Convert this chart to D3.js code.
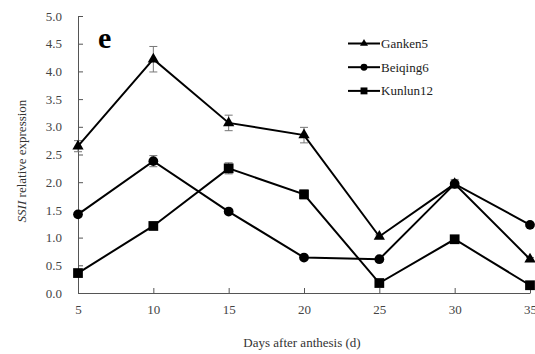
<!DOCTYPE html>
<html>
<head>
<meta charset="utf-8">
<script src="https://d3js.org/d3.v7.min.js"></script>
<style>
  body { margin: 0; background: #fff; }
  svg { display: block; }
  .axis path, .axis line { stroke: #555; }
  .axis text { fill: #444; font-size: 13px; }
</style>
</head>
<body>
<script>
// data
var days = [5, 10, 15, 20, 25, 30, 35];
var ganken5 = [2.65, 4.22, 3.07, 2.85, 1.02, 1.97, 0.61];
var ganken5Err = [0.10, 0.23, 0.14, 0.14, 0.03, 0.08, 0.03];
var beiqing6 = [1.42, 2.38, 1.47, 0.64, 0.61, 1.97, 1.23];
var beiqing6Err = [0.04, 0.10, 0.04, 0.03, 0.03, 0.05, 0.03];
var kunlun12 = [0.36, 1.21, 2.25, 1.78, 0.18, 0.97, 0.14];
var kunlun12Err = [0.03, 0.04, 0.10, 0.08, 0.03, 0.03, 0.03];
var seriesNames = ["Ganken5", "Beiqing6", "Kunlun12"];
var yTicks = [0, 0.5, 1, 1.5, 2, 2.5, 3, 3.5, 4, 4.5, 5];

var FONT = "'Liberation Serif', 'Times New Roman', serif";

var series = [
  {name: seriesNames[0], values: ganken5, err: ganken5Err, shape: d3.symbolTriangle, size: 55},
  {name: seriesNames[1], values: beiqing6, err: beiqing6Err, shape: d3.symbolCircle, size: 75},
  {name: seriesNames[2], values: kunlun12, err: kunlun12Err, shape: d3.symbolSquare, size: 95}
];

var W = 535, H = 354;
var svg = d3.select("body").append("svg").attr("width", W).attr("height", H)
  .attr("font-family", FONT);

var x = d3.scaleLinear().domain([5, 35]).range([78, 530]);
var y = d3.scaleLinear().domain([0, 5]).range([293, 16]);

// axes, ticks pointing inward
svg.append("g")
  .attr("class", "axis")
  .attr("transform", "translate(0,293)")
  .call(d3.axisBottom(x).tickValues(days).tickSize(-5).tickPadding(12).tickSizeOuter(0))
  .call(function(g) { g.attr("font-family", FONT).attr("font-size", 13); g.selectAll("text").attr("dy", "0.71em"); });

svg.append("g")
  .attr("class", "axis")
  .attr("transform", "translate(78,0)")
  .call(d3.axisLeft(y).tickValues(yTicks).tickFormat(d3.format(".1f")).tickSize(-5).tickPadding(16).tickSizeOuter(0))
  .call(function(g) { g.attr("font-family", FONT).attr("font-size", 13); });

// axis titles
svg.append("text")
  .attr("x", 302).attr("y", 347)
  .attr("text-anchor", "middle")
  .attr("fill", "#333")
  .attr("font-size", 13)
  .text("Days after anthesis (d)");

var yl = svg.append("text")
  .attr("transform", "translate(26,161) rotate(-90)")
  .attr("text-anchor", "middle")
  .attr("fill", "#333")
  .attr("font-size", 13);
yl.append("tspan").attr("font-style", "italic").text("SSII");
yl.append("tspan").text(" relative expression");

// panel letter
svg.append("text")
  .attr("x", 98).attr("y", 48)
  .attr("font-weight", "bold")
  .attr("font-size", 30)
  .attr("fill", "#000")
  .text("e");

var line = d3.line()
  .x(function(d, i) { return x(days[i]); })
  .y(function(d) { return y(d); });

// error bars
series.forEach(function(s) {
  var eb = svg.append("g").attr("stroke", "#777").attr("stroke-width", 1);
  s.values.forEach(function(v, i) {
    var cx = x(days[i]), y1 = y(v + s.err[i]), y0 = y(v - s.err[i]);
    eb.append("line").attr("x1", cx).attr("x2", cx).attr("y1", y1).attr("y2", y0);
    eb.append("line").attr("x1", cx - 4).attr("x2", cx + 4).attr("y1", y1).attr("y2", y1);
    eb.append("line").attr("x1", cx - 4).attr("x2", cx + 4).attr("y1", y0).attr("y2", y0);
  });
});

// lines and markers
series.forEach(function(s) {
  svg.append("path")
    .datum(s.values)
    .attr("fill", "none")
    .attr("stroke", "#000")
    .attr("stroke-width", 2)
    .attr("d", line);

  svg.append("g").selectAll("path")
    .data(s.values)
    .enter().append("path")
    .attr("transform", function(d, i) { return "translate(" + x(days[i]) + "," + y(d) + ")"; })
    .attr("d", d3.symbol().type(s.shape).size(s.size))
    .attr("fill", "#000");
});

// legend
var legend = svg.selectAll(".legend")
  .data(series)
  .enter().append("g")
  .attr("class", "legend")
  .attr("transform", function(d, i) { return "translate(348," + (43.5 + i * 23.7) + ")"; });

legend.append("line")
  .attr("x1", 0).attr("x2", 32)
  .attr("stroke", "#000").attr("stroke-width", 2);

legend.append("path")
  .attr("transform", "translate(16,0)")
  .attr("d", function(d) { return d3.symbol().type(d.shape).size(d.size * 0.5)(); })
  .attr("fill", "#000");

legend.append("text")
  .attr("x", 33).attr("y", 0).attr("dy", "0.35em")
  .attr("fill", "#222")
  .attr("font-size", 13)
  .text(function(d) { return d.name; });
</script>
</body>
</html>
